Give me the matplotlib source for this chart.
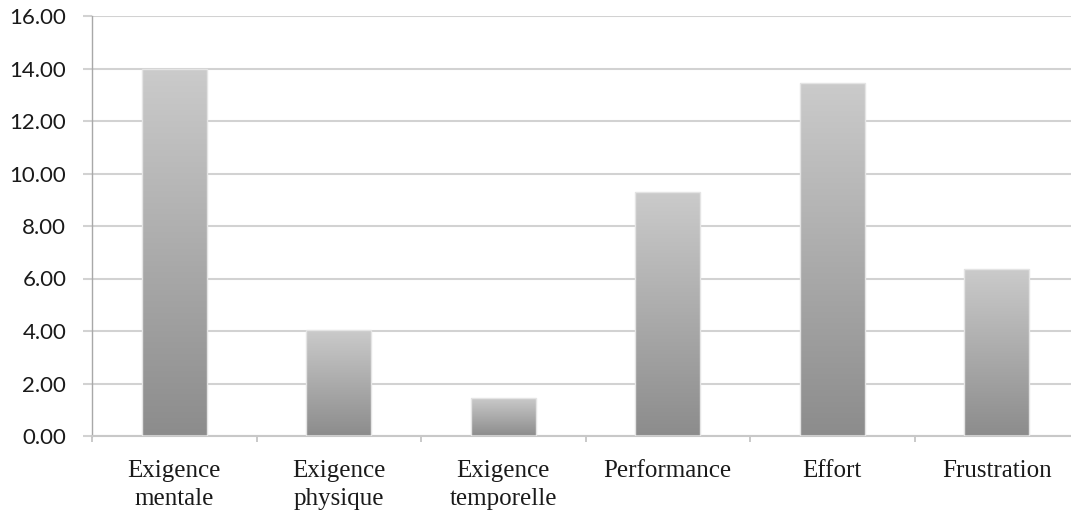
import numpy as np
import matplotlib.pyplot as plt
from matplotlib.colors import LinearSegmentedColormap

categories = ["Exigence\nmentale", "Exigence\nphysique", "Exigence\ntemporelle",
              "Performance", "Effort", "Frustration"]
scores = [14.0, 4.05, 1.45, 9.30, 13.45, 6.37]
yticks = [0, 2, 4, 6, 8, 10, 12, 14, 16]

fig = plt.figure(figsize=(10.71, 5.15), dpi=100)
# axes runs past the right edge of the figure on purpose
ax = fig.add_axes([92 / 1071, 79 / 515, 987 / 1071, 420 / 515])

x = np.arange(len(categories))
bars = ax.bar(x, scores, width=0.395, color="none", edgecolor="#e4e4e4",
              linewidth=1.0, zorder=3)

# vertical grey gradient inside each bar
cmap = LinearSegmentedColormap.from_list("bar_grey", ["#8c8c8c", "#cbcbcb"])
grad = np.linspace(0, 1, 256).reshape(-1, 1)
for b in bars:
    x0, y0 = b.get_x(), b.get_y()
    im = ax.imshow(grad, cmap=cmap, origin="lower", aspect="auto",
                   extent=(x0, x0 + b.get_width(), y0, y0 + b.get_height()),
                   zorder=2)
    im.set_clip_path(b)

ax.set_xlim(-0.5, len(categories) - 0.5)
ax.set_ylim(0, 16)

ax.set_yticks(yticks)
ax.set_yticklabels([f"{v:.2f}" for v in yticks], fontfamily="Lato", fontsize=16)
ax.yaxis.grid(True, color="#d2d2d2", linewidth=1.5, zorder=0)
ax.set_axisbelow(True)
ax.tick_params(axis="y", length=6.5, width=1.5, color="#d2d2d2", pad=12,
               labelcolor="#1a1a1a")

# category ticks sit on the boundaries, labels in the middle
ax.set_xticks(np.arange(len(categories) + 1) - 0.5)
ax.set_xticklabels([])
ax.set_xticks(x, minor=True)
ax.set_xticklabels(categories, minor=True, fontfamily="Liberation Serif",
                   fontsize=18, linespacing=1.35)
ax.tick_params(axis="x", which="major", length=4.5, width=1.2, color="#c0c0c0")
ax.tick_params(axis="x", which="minor", length=0, pad=17, labelcolor="#1a1a1a")

for side in ("top", "right"):
    ax.spines[side].set_visible(False)
ax.spines["left"].set_color("#a8a8a8")
ax.spines["left"].set_linewidth(1.0)
ax.spines["bottom"].set_color("#c8c8c8")
ax.spines["bottom"].set_linewidth(1.5)

fig.savefig("out.png", dpi=100)
